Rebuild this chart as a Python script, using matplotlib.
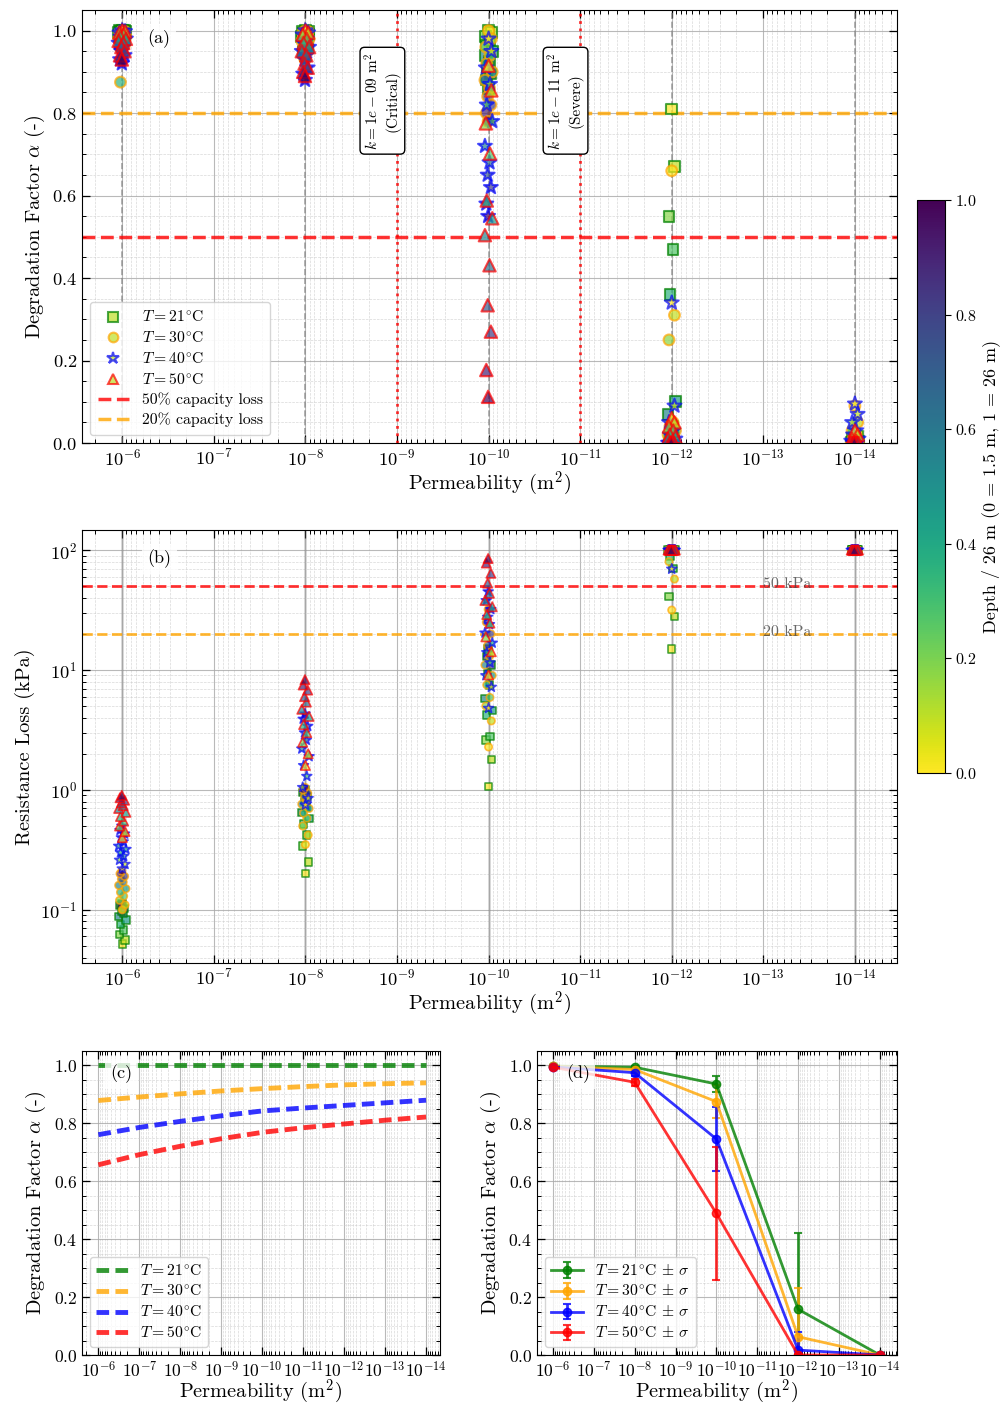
import numpy as np
import matplotlib
matplotlib.use('Agg')
import matplotlib.pyplot as plt
from matplotlib.ticker import LogLocator, MultipleLocator, NullFormatter, FixedLocator
from matplotlib.lines import Line2D
from matplotlib.colors import Normalize
import matplotlib.cm as cm

plt.rcParams.update({
    'font.family': 'serif',
    'font.serif': ['cmr10'],
    'mathtext.fontset': 'cm',
    'axes.formatter.use_mathtext': True,
    'font.size': 11,
})

# ---------------- data ----------------
k_values = [1e-6, 1e-8, 1e-10, 1e-12, 1e-14]
temps = [21, 30, 40, 50]
depth_frac = [0.0, 0.09, 0.18, 0.27, 0.36, 0.45, 0.55, 0.64, 0.73, 0.82, 0.91, 1.0]
x_jitter_dec = [0.0, -0.03, 0.03, -0.015, 0.02, -0.04, 0.04, -0.01, 0.01, -0.025, 0.025, 0.005]

alpha_T21 = [
    [1.0, 1.0, 1.0, 0.999, 0.998, 0.997, 0.996, 0.995, 0.993, 0.99, 0.985, 0.98],
    [1.0, 0.999, 0.998, 0.996, 0.994, 0.99, 0.985, 0.98, 0.97, 0.96, 0.95, 0.94],
    [1.0, 0.995, 0.985, 0.975, 0.965, 0.95, 0.94, 0.925, 0.91, 0.895, 0.88, 0.86],
    [0.81, 0.67, 0.55, 0.47, 0.36, 0.10, 0.07, 0.04, 0.02, 0.01, 0.0, 0.0],
    [0.02, 0.015, 0.01, 0.008, 0.005, 0.003, 0.002, 0.001, 0.0, 0.0, 0.0, 0.0],
]
alpha_T30 = [
    [1.0, 0.998, 0.995, 0.99, 0.875, 0.985, 0.98, 0.975, 0.97, 0.965, 0.96, 0.955],
    [1.0, 0.998, 0.995, 0.99, 0.985, 0.98, 0.975, 0.97, 0.96, 0.95, 0.94, 0.93],
    [1.0, 0.98, 0.96, 0.94, 0.92, 0.90, 0.88, 0.86, 0.84, 0.82, 0.80, 0.78],
    [0.66, 0.31, 0.25, 0.05, 0.04, 0.03, 0.02, 0.01, 0.0, 0.0, 0.0, 0.0],
    [0.09, 0.05, 0.03, 0.02, 0.01, 0.005, 0.0, 0.0, 0.0, 0.0, 0.0, 0.0],
]
alpha_T40 = [
    [1.0, 0.998, 0.995, 0.99, 0.985, 0.98, 0.97, 0.96, 0.95, 0.94, 0.93, 0.92],
    [1.0, 0.995, 0.99, 0.98, 0.97, 0.96, 0.95, 0.94, 0.93, 0.91, 0.895, 0.88],
    [0.98, 0.95, 0.91, 0.87, 0.82, 0.78, 0.72, 0.68, 0.65, 0.62, 0.58, 0.55],
    [0.34, 0.09, 0.05, 0.03, 0.02, 0.01, 0.0, 0.0, 0.0, 0.0, 0.0, 0.0],
    [0.095, 0.07, 0.05, 0.03, 0.02, 0.01, 0.005, 0.0, 0.0, 0.0, 0.0, 0.0],
]
alpha_T50 = [
    [1.0, 0.998, 0.995, 0.99, 0.985, 0.98, 0.975, 0.97, 0.96, 0.95, 0.94, 0.93],
    [1.0, 0.995, 0.99, 0.98, 0.97, 0.96, 0.95, 0.94, 0.92, 0.91, 0.90, 0.89],
    [0.915, 0.855, 0.775, 0.702, 0.588, 0.545, 0.504, 0.431, 0.334, 0.27, 0.177, 0.112],
    [0.06, 0.05, 0.04, 0.03, 0.02, 0.015, 0.01, 0.005, 0.0, 0.0, 0.0, 0.0],
    [0.03, 0.02, 0.01, 0.005, 0.0, 0.0, 0.0, 0.0, 0.0, 0.0, 0.0, 0.0],
]

loss_T21 = [
    [0.052, 0.056, 0.062, 0.068, 0.075, 0.082, 0.088, 0.093, 0.098, 0.103, 0.108, 0.112],
    [0.20, 0.25, 0.34, 0.42, 0.52, 0.58, 0.65, 0.72, 0.80, 0.88, 0.95, 1.0],
    [1.07, 1.79, 2.6, 2.78, 4.2, 4.6, 5.8, 7.5, 9.3, 11.0, 13.0, 15.0],
    [15.0, 27.9, 40.8, 70.0, 88.0, 100, 100, 100, 100, 100, 100, 100],
    [100, 100, 100, 100, 100, 100, 100, 100, 100, 100, 100, 100],
]
loss_T30 = [
    [0.10, 0.11, 0.12, 0.13, 0.14, 0.15, 0.16, 0.17, 0.18, 0.19, 0.2, 0.21],
    [0.35, 0.42, 0.50, 0.58, 0.64, 0.70, 0.76, 0.82, 0.88, 0.94, 1.0, 1.05],
    [2.28, 3.76, 5.0, 5.9, 7.5, 9.0, 11.0, 13.0, 16.0, 20.0, 25.0, 32.0],
    [31.6, 57.3, 80.0, 100, 100, 100, 100, 100, 100, 100, 100, 100],
    [100, 100, 100, 100, 100, 100, 100, 100, 100, 100, 100, 100],
]
loss_T40 = [
    [0.22, 0.24, 0.26, 0.28, 0.30, 0.32, 0.34, 0.37, 0.40, 0.43, 0.46, 0.5],
    [0.75, 0.85, 1.05, 1.3, 1.6, 1.9, 2.2, 2.6, 3.0, 3.4, 3.9, 4.3],
    [4.8, 7.2, 9.0, 11.5, 14.0, 16.8, 20.4, 24.0, 27.6, 32.0, 38.0, 45.0],
    [69.5, 100, 100, 100, 100, 100, 100, 100, 100, 100, 100, 100],
    [100, 100, 100, 100, 100, 100, 100, 100, 100, 100, 100, 100],
]
loss_T50 = [
    [0.40, 0.45, 0.50, 0.55, 0.60, 0.65, 0.70, 0.74, 0.78, 0.82, 0.86, 0.9],
    [1.6, 2.0, 2.5, 3.0, 3.5, 4.1, 4.7, 5.4, 6.0, 6.8, 7.5, 8.3],
    [9.1, 14.2, 18.9, 24.6, 29.0, 33.7, 38.0, 43.6, 53.0, 64.0, 78.0, 85.0],
    [100, 100, 100, 100, 100, 100, 100, 100, 100, 100, 100, 100],
    [100, 100, 100, 100, 100, 100, 100, 100, 100, 100, 100, 100],
]

# panel (c) model curves
k_curve = [1e-6, 1e-7, 1e-8, 1e-9, 1e-10, 1e-11, 1e-12, 1e-13, 1e-14]
curve_T21 = [1.0, 1.0, 1.0, 1.0, 1.0, 1.0, 1.0, 1.0, 1.0]
curve_T30 = [0.879, 0.891, 0.902, 0.912, 0.920, 0.927, 0.933, 0.937, 0.940]
curve_T40 = [0.761, 0.786, 0.807, 0.826, 0.843, 0.853, 0.862, 0.871, 0.880]
curve_T50 = [0.657, 0.692, 0.721, 0.747, 0.769, 0.785, 0.798, 0.811, 0.822]

# panel (d) means and std
mean_T21 = [0.998, 0.994, 0.936, 0.158, 0.0]
std_T21 = [0.002, 0.004, 0.029, 0.264, 0.0]
mean_T30 = [0.997, 0.986, 0.875, 0.063, 0.0]
std_T30 = [0.003, 0.008, 0.057, 0.168, 0.0]
mean_T40 = [0.995, 0.975, 0.746, 0.017, 0.0]
std_T40 = [0.004, 0.012, 0.11, 0.064, 0.0]
mean_T50 = [0.994, 0.942, 0.489, 0.0, 0.0]
std_T50 = [0.005, 0.012, 0.23, 0.004, 0.0]

crit_k = [1e-9, 1e-11]
crit_names = ['Critical', 'Severe']
crit_labels = ['1e-09', '1e-11']

# x tick decades
x_ticks = [1e-6, 1e-7, 1e-8, 1e-9, 1e-10, 1e-11, 1e-12, 1e-13, 1e-14]

# ---------------- style ----------------
alpha_sets = [alpha_T21, alpha_T30, alpha_T40, alpha_T50]
loss_sets = [loss_T21, loss_T30, loss_T40, loss_T50]
curve_sets = [curve_T21, curve_T30, curve_T40, curve_T50]
mean_sets = [mean_T21, mean_T30, mean_T40, mean_T50]
std_sets = [std_T21, std_T30, std_T40, std_T50]
markers = ['s', 'o', '*', '^']
msizes_a = [60, 60, 110, 80]
msizes_b = [28, 28, 55, 45]
edgecols = ['green', 'orange', 'blue', 'red']
cmap = plt.get_cmap('viridis_r')
norm = Normalize(0, 1)

TICK = 13.3
LAB = 14.7

fig = plt.figure(figsize=(10.07, 14.05), dpi=100)
W, H = 1007, 1405


def add_ax(x0, y0, x1, y1):
    return fig.add_axes([x0 / W, 1 - y1 / H, (x1 - x0) / W, (y1 - y0) / H])


def style_log_x(ax, tsize=TICK):
    ax.set_xscale('log')
    ax.xaxis.set_major_locator(FixedLocator(x_ticks))
    ax.xaxis.set_minor_locator(LogLocator(base=10, subs=np.arange(2, 10), numticks=300))
    ax.xaxis.set_minor_formatter(NullFormatter())
    ax.tick_params(which='both', direction='in', top=True, right=True, labelsize=tsize)
    ax.tick_params(which='major', length=6, width=0.9)
    ax.tick_params(which='minor', length=3, width=0.7)
    ax.grid(True, which='major', color='#a8a8a8', lw=0.8, alpha=0.8)
    ax.grid(True, which='minor', color='#c8c8c8', lw=0.5, ls='--', alpha=0.7)
    ax.set_axisbelow(True)


ax_a = add_ax(82, 10, 897, 443)
ax_b = add_ax(82, 530, 897, 963)
ax_c = add_ax(82, 1051, 440, 1355)
ax_d = add_ax(537, 1051, 897, 1355)
cax = add_ax(917, 200, 945, 773)

# ----- (a) -----
style_log_x(ax_a)
for k in k_values:
    ax_a.axvline(k, color='gray', ls='--', lw=1.2, alpha=0.7, zorder=1)
for i, T in enumerate(temps):
    for j, k in enumerate(k_values):
        xs = [k * 10 ** jd for jd in x_jitter_dec]
        ax_a.scatter(xs, alpha_sets[i][j], c=depth_frac, cmap=cmap, norm=norm,
                     marker=markers[i], s=msizes_a[i], edgecolors=edgecols[i],
                     linewidths=1.5, alpha=0.7, zorder=3)
h50 = ax_a.axhline(0.5, color='red', ls='--', lw=2.5, alpha=0.8, zorder=2,
                   label='50% capacity loss')
h20 = ax_a.axhline(0.8, color='orange', ls='--', lw=2.5, alpha=0.8, zorder=2,
                   label='20% capacity loss')
for kc, nm, lab in zip(crit_k, crit_names, crit_labels):
    ax_a.axvline(kc, color='red', ls=':', lw=2, alpha=0.8, zorder=2)
    ax_a.text(kc * 10 ** 0.165, 0.83, r'$k = ' + lab + r'$ m$^2$' + '\n(' + nm + ')',
              rotation=90, ha='center', va='center', multialignment='center', fontsize=11,
              bbox=dict(boxstyle='round,pad=0.3', fc='white', ec='black', lw=1), zorder=5)
ax_a.set_xlim(10 ** -5.56, 10 ** -14.46)
ax_a.set_ylim(0, 1.05)
ax_a.yaxis.set_major_locator(MultipleLocator(0.2))
ax_a.yaxis.set_minor_locator(MultipleLocator(0.05))
ax_a.set_ylabel(r'Degradation Factor $\alpha$ (-)', fontsize=LAB)
ax_a.set_xlabel(r'Permeability (m$^2$)', fontsize=LAB, labelpad=1)
ax_a.text(0.08, 0.955, '(a)', transform=ax_a.transAxes, fontsize=13, ha='left', va='top',
          bbox=dict(fc='white', ec='none', alpha=0.8), zorder=6)
leg_handles = []
for i, T in enumerate(temps):
    leg_handles.append(Line2D([], [], ls='none', marker=markers[i], mfc=cmap(0.1),
                              mec=edgecols[i], mew=1.5, ms=7 if markers[i] != '*' else 9,
                              alpha=0.7, label=r'$T = %d^{\circ}$C' % T))
leg_handles += [h50, h20]
ax_a.legend(handles=leg_handles, loc='lower left', fontsize=11.3, framealpha=0.8,
            edgecolor='#cccccc', borderpad=0.5, labelspacing=0.33)

# ----- (b) -----
style_log_x(ax_b)
ax_b.set_yscale('log')
ax_b.yaxis.set_major_locator(FixedLocator([0.1, 1, 10, 100]))
ax_b.yaxis.set_minor_locator(LogLocator(base=10, subs=np.arange(2, 10), numticks=100))
ax_b.yaxis.set_minor_formatter(NullFormatter())
for k in k_values:
    ax_b.axvline(k, color='gray', ls='-', lw=2, alpha=0.3, zorder=1)
for i, T in enumerate(temps):
    for j, k in enumerate(k_values):
        xs = [k * 10 ** jd for jd in x_jitter_dec]
        ax_b.scatter(xs, loss_sets[i][j], c=depth_frac, cmap=cmap, norm=norm,
                     marker=markers[i], s=msizes_b[i], edgecolors=edgecols[i],
                     linewidths=1.2, alpha=0.7, zorder=3)
ax_b.axhline(50, color='red', ls='--', lw=2, alpha=0.8, zorder=2)
ax_b.axhline(20, color='orange', ls='--', lw=2, alpha=0.8, zorder=2)
ax_b.text(1e-13, 52, '50 kPa', fontsize=11.5, color='#444444', alpha=0.8, ha='left', va='center')
ax_b.text(1e-13, 20.8, '20 kPa', fontsize=11.5, color='#444444', alpha=0.8, ha='left', va='center')
ax_b.set_xlim(10 ** -5.56, 10 ** -14.46)
ax_b.set_ylim(0.036, 147)
ax_b.set_ylabel('Resistance Loss (kPa)', fontsize=LAB)
ax_b.set_xlabel(r'Permeability (m$^2$)', fontsize=LAB, labelpad=1)
ax_b.text(0.08, 0.955, '(b)', transform=ax_b.transAxes, fontsize=13, ha='left', va='top',
          bbox=dict(fc='white', ec='none', alpha=0.8), zorder=6)

# ----- (c) -----
style_log_x(ax_c, 12.6)
for i, T in enumerate(temps):
    ax_c.plot(k_curve, curve_sets[i], color=edgecols[i], ls='--', lw=3.5, alpha=0.8,
              dashes=(2.6, 1.3), label=r'$T = %d^{\circ}$C' % T)
ax_c.set_xlim(10 ** -5.6, 10 ** -14.34)
ax_c.set_ylim(0, 1.05)
ax_c.yaxis.set_major_locator(MultipleLocator(0.2))
ax_c.yaxis.set_minor_locator(MultipleLocator(0.05))
ax_c.set_ylabel(r'Degradation Factor $\alpha$ (-)', fontsize=LAB)
ax_c.set_xlabel(r'Permeability (m$^2$)', fontsize=LAB, labelpad=-1.5)
ax_c.text(0.08, 0.955, '(c)', transform=ax_c.transAxes, fontsize=13, ha='left', va='top',
          bbox=dict(fc='white', ec='none', alpha=0.8), zorder=6)
ax_c.legend(loc='lower left', fontsize=11.3, framealpha=0.8, edgecolor='#cccccc',
            labelspacing=0.33)

# ----- (d) -----
style_log_x(ax_d, 12.6)
for i, T in enumerate(temps):
    ax_d.errorbar(k_values, mean_sets[i], yerr=std_sets[i], color=edgecols[i], marker='o',
                  ms=6, lw=2, capsize=3, capthick=1.5, alpha=0.8,
                  label=r'$T = %d^{\circ}$C $\pm$ $\sigma$' % T)
ax_d.set_xlim(10 ** -5.61, 10 ** -14.42)
ax_d.set_ylim(0, 1.05)
ax_d.yaxis.set_major_locator(MultipleLocator(0.2))
ax_d.yaxis.set_minor_locator(MultipleLocator(0.05))
ax_d.set_ylabel(r'Degradation Factor $\alpha$ (-)', fontsize=LAB)
ax_d.set_xlabel(r'Permeability (m$^2$)', fontsize=LAB, labelpad=-1.5)
ax_d.text(0.08, 0.955, '(d)', transform=ax_d.transAxes, fontsize=13, ha='left', va='top',
          bbox=dict(fc='white', ec='none', alpha=0.8), zorder=6)
ax_d.legend(loc='lower left', fontsize=11.3, framealpha=0.8, edgecolor='#cccccc',
            labelspacing=0.33)

# ----- colorbar -----
sm = cm.ScalarMappable(norm=norm, cmap=cmap)
cb = fig.colorbar(sm, cax=cax)
cb.set_ticks([0.0, 0.2, 0.4, 0.6, 0.8, 1.0])
cb.ax.tick_params(labelsize=11.5, direction='out', length=4)
cb.set_label('Depth / 26 m (0 = 1.5 m, 1 = 26 m)', fontsize=13, labelpad=3)

fig.savefig('out.png', dpi=100)
